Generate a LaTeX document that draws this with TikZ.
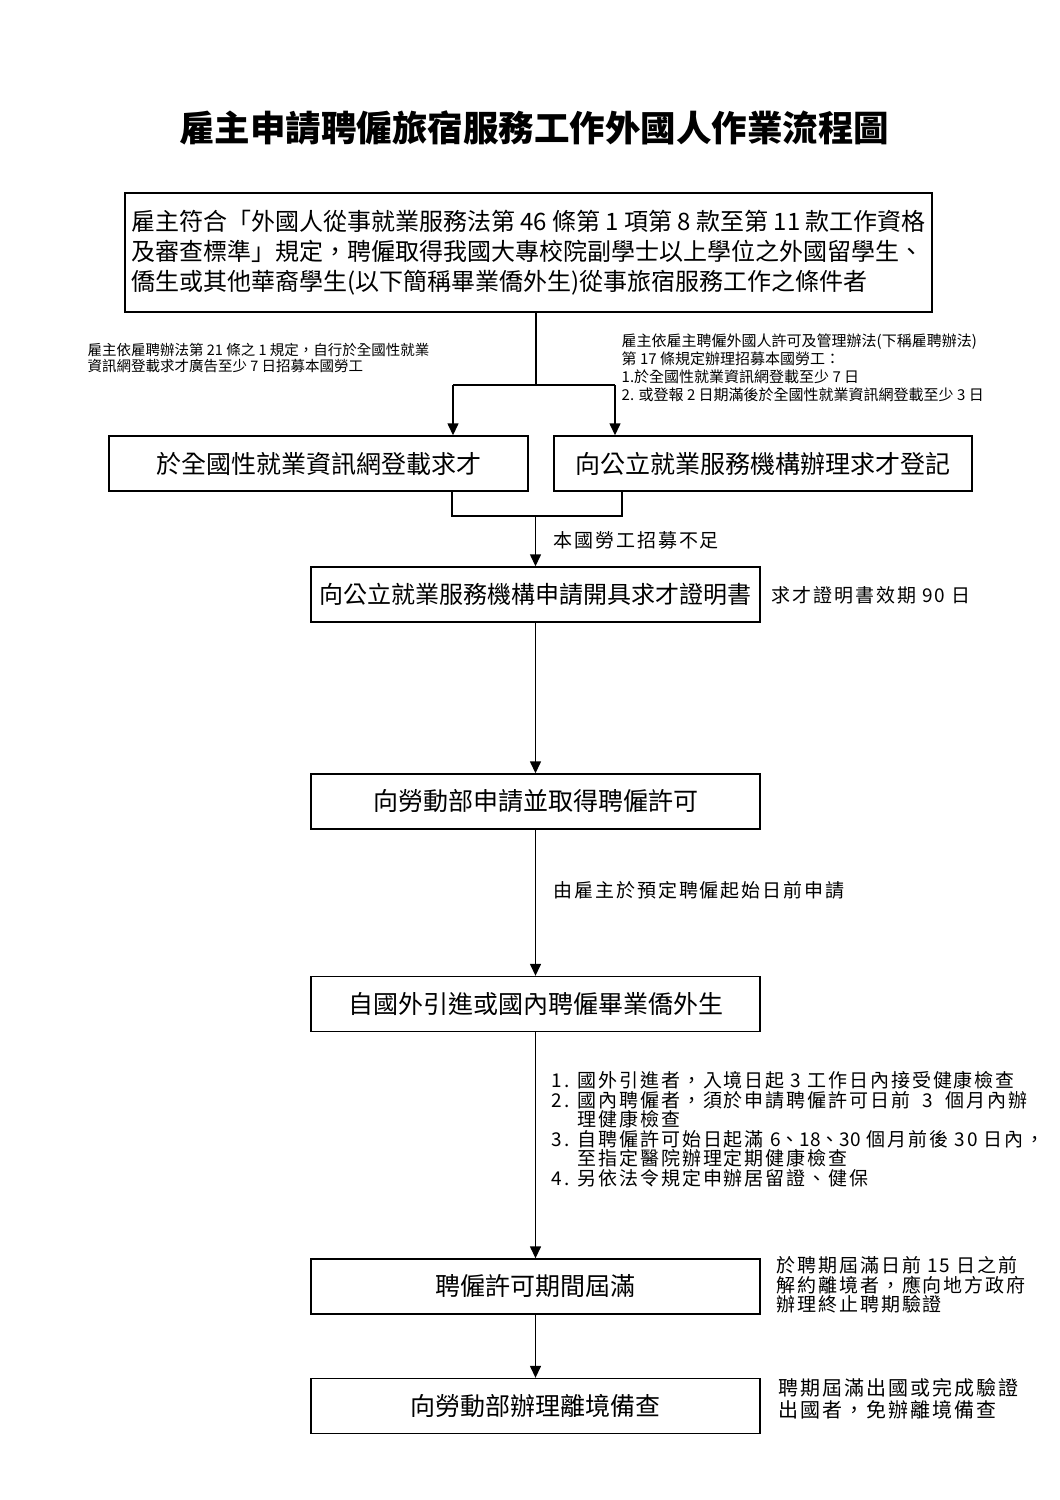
\documentclass[tikz,border=0pt]{standalone}
\usepackage{fontspec}
\setmainfont{Noto Sans CJK TC}
\newfontfamily\kuan{Noto Sans CJK TC}[LetterSpace=10]
\newfontfamily\jin{Noto Sans CJK TC}
\usetikzlibrary{
  arrows.meta,
  positioning,
  calc
}

\begin{document}
\begin{tikzpicture}[
        x=1pt, y=-1pt,
        >={Triangle[length=12pt,width=11pt]},
        line width=1.4pt,
        kuang/.style={draw=black, line width=1.4pt, minimum height=55pt,
                      inner sep=0pt, font=\fontsize{25}{30}\selectfont},
        jiantou/.style={->, line width=1.4pt, black},
        zhu/.style={inner sep=0pt, align=left, font=\kuan\fontsize{19}{19.5}\selectfont},
        xiaozhu/.style={inner sep=0pt, align=left}
    ]
        \useasboundingbox (0,0) rectangle (1060,1500);
        \node[font=\bfseries\fontsize{35.5}{40}\selectfont] (biaoti) at (534,128)
            {雇主申請聘僱旅宿服務工作外國人作業流程圖};
        \node[kuang, minimum width=807pt, minimum height=119pt, align=left,
              font=\fontsize{24}{30}\selectfont] (tiaojian) at (528.5,252.5)
            {雇主符合「外國人從事就業服務法第 46 條第 1 項第 8 款至第 11 款工作資格\\
             及審查標準」規定，聘僱取得我國大專校院副學士以上學位之外國留學生、\\
             僑生或其他華裔學生(以下簡稱畢業僑外生)從事旅宿服務工作之條件者};
        \node[kuang, minimum width=419pt] (wangzhan) at (318.5,463.5) {於全國性就業資訊網登載求才};
        \node[kuang, minimum width=418pt] (dengji) at (763,463.5) {向公立就業服務機構辦理求才登記};
        \node[kuang, minimum width=449pt, font=\fontsize{24}{30}\selectfont] (zhengming) at (535.5,594.5)
            {向公立就業服務機構申請開具求才證明書};
        \node[kuang, minimum width=449pt] (xuke) at (535.5,801.5) {向勞動部申請並取得聘僱許可};
        \node[kuang, minimum width=449pt] (yinjin) at (535.5,1004) {自國外引進或國內聘僱畢業僑外生};
        \node[kuang, minimum width=449pt] (jieman) at (535.5,1286.5) {聘僱許可期間屆滿};
        \node[kuang, minimum width=449pt] (lijing) at (535.5,1406) {向勞動部辦理離境備查};
        % notes beside the flow
        \node[xiaozhu, anchor=north west, font=\fontsize{14.5}{16}\selectfont] (zizhu) at (87,342)
            {雇主依雇聘辦法第 21 條之 1 規定，自行於全國性就業\\
             資訊網登載求才廣告至少 7 日招募本國勞工};
        \node[xiaozhu, anchor=north west, font=\fontsize{15}{18}\selectfont] (yifa) at (621,333)
            {雇主依雇主聘僱外國人許可及管理辦法(下稱雇聘辦法)\\
             第 17 條規定辦理招募本國勞工：\\
             1.於全國性就業資訊網登載至少 7 日\\
             2. 或登報 2 日期滿後於全國性就業資訊網登載至少 3 日};
        \node[zhu, anchor=west] (buzu) at (553,540) {本國勞工招募不足};
        \node[zhu, anchor=west] (xiaoqi) at (771,595) {求才證明書效期 90 日};
        \node[zhu, anchor=west] (shenqing) at (553,890) {由雇主於預定聘僱起始日前申請};
        \node[zhu, anchor=north west] (jiancha) at (551,1071)
            {\makebox[26pt][l]{1.}國外引進者，入境日起 3 工作日內接受健康檢查\\
             \makebox[26pt][l]{2.}國內聘僱者，須於申請聘僱許可日前\ \ 3\ \ 個月內辦\\
             \hspace*{26pt}理健康檢查\\
             \makebox[26pt][l]{3.}自聘僱許可始日起滿 {\jin 6、18、30} 個月前後 30 日內，\\
             \hspace*{26pt}至指定醫院辦理定期健康檢查\\
             \makebox[26pt][l]{4.}另依法令規定申辦居留證、健保};
        \node[zhu, anchor=north west] (zhongzhi) at (776,1256)
            {於聘期屆滿日前 15 日之前\\
             解約離境者，應向地方政府\\
             辦理終止聘期驗證};
        \node[zhu, anchor=north west, font=\kuan\fontsize{20}{21.5}\selectfont] (mianban) at (778,1378)
            {聘期屆滿出國或完成驗證\\
             出國者，免辦離境備查};
        % split and merge lines
        \coordinate (fenzuo) at (453,385);
        \coordinate (fenzhong) at (536,385);
        \coordinate (fenyou) at (615,385);
        \draw (fenzhong |- tiaojian.south) -- (fenzhong);
        \draw (fenzuo) -- (fenyou);
        \draw[jiantou] (fenzuo) -- (fenzuo |- wangzhan.north);
        \draw[jiantou] (fenyou) -- (fenyou |- dengji.north);
        \coordinate (hezuo) at (452,516);
        \coordinate (heyou) at (622,516);
        \draw (hezuo |- wangzhan.south) -- (hezuo) -- (heyou) -- (heyou |- dengji.south);
        \draw[jiantou] (zhengming.north |- hezuo) -- (zhengming.north);
        \draw[jiantou] (zhengming) -- (xuke);
        \draw[jiantou] (xuke) -- (yinjin);
        \draw[jiantou] (yinjin) -- (jieman);
        \draw[jiantou] (jieman) -- (lijing);
    \end{tikzpicture}
\end{document}
